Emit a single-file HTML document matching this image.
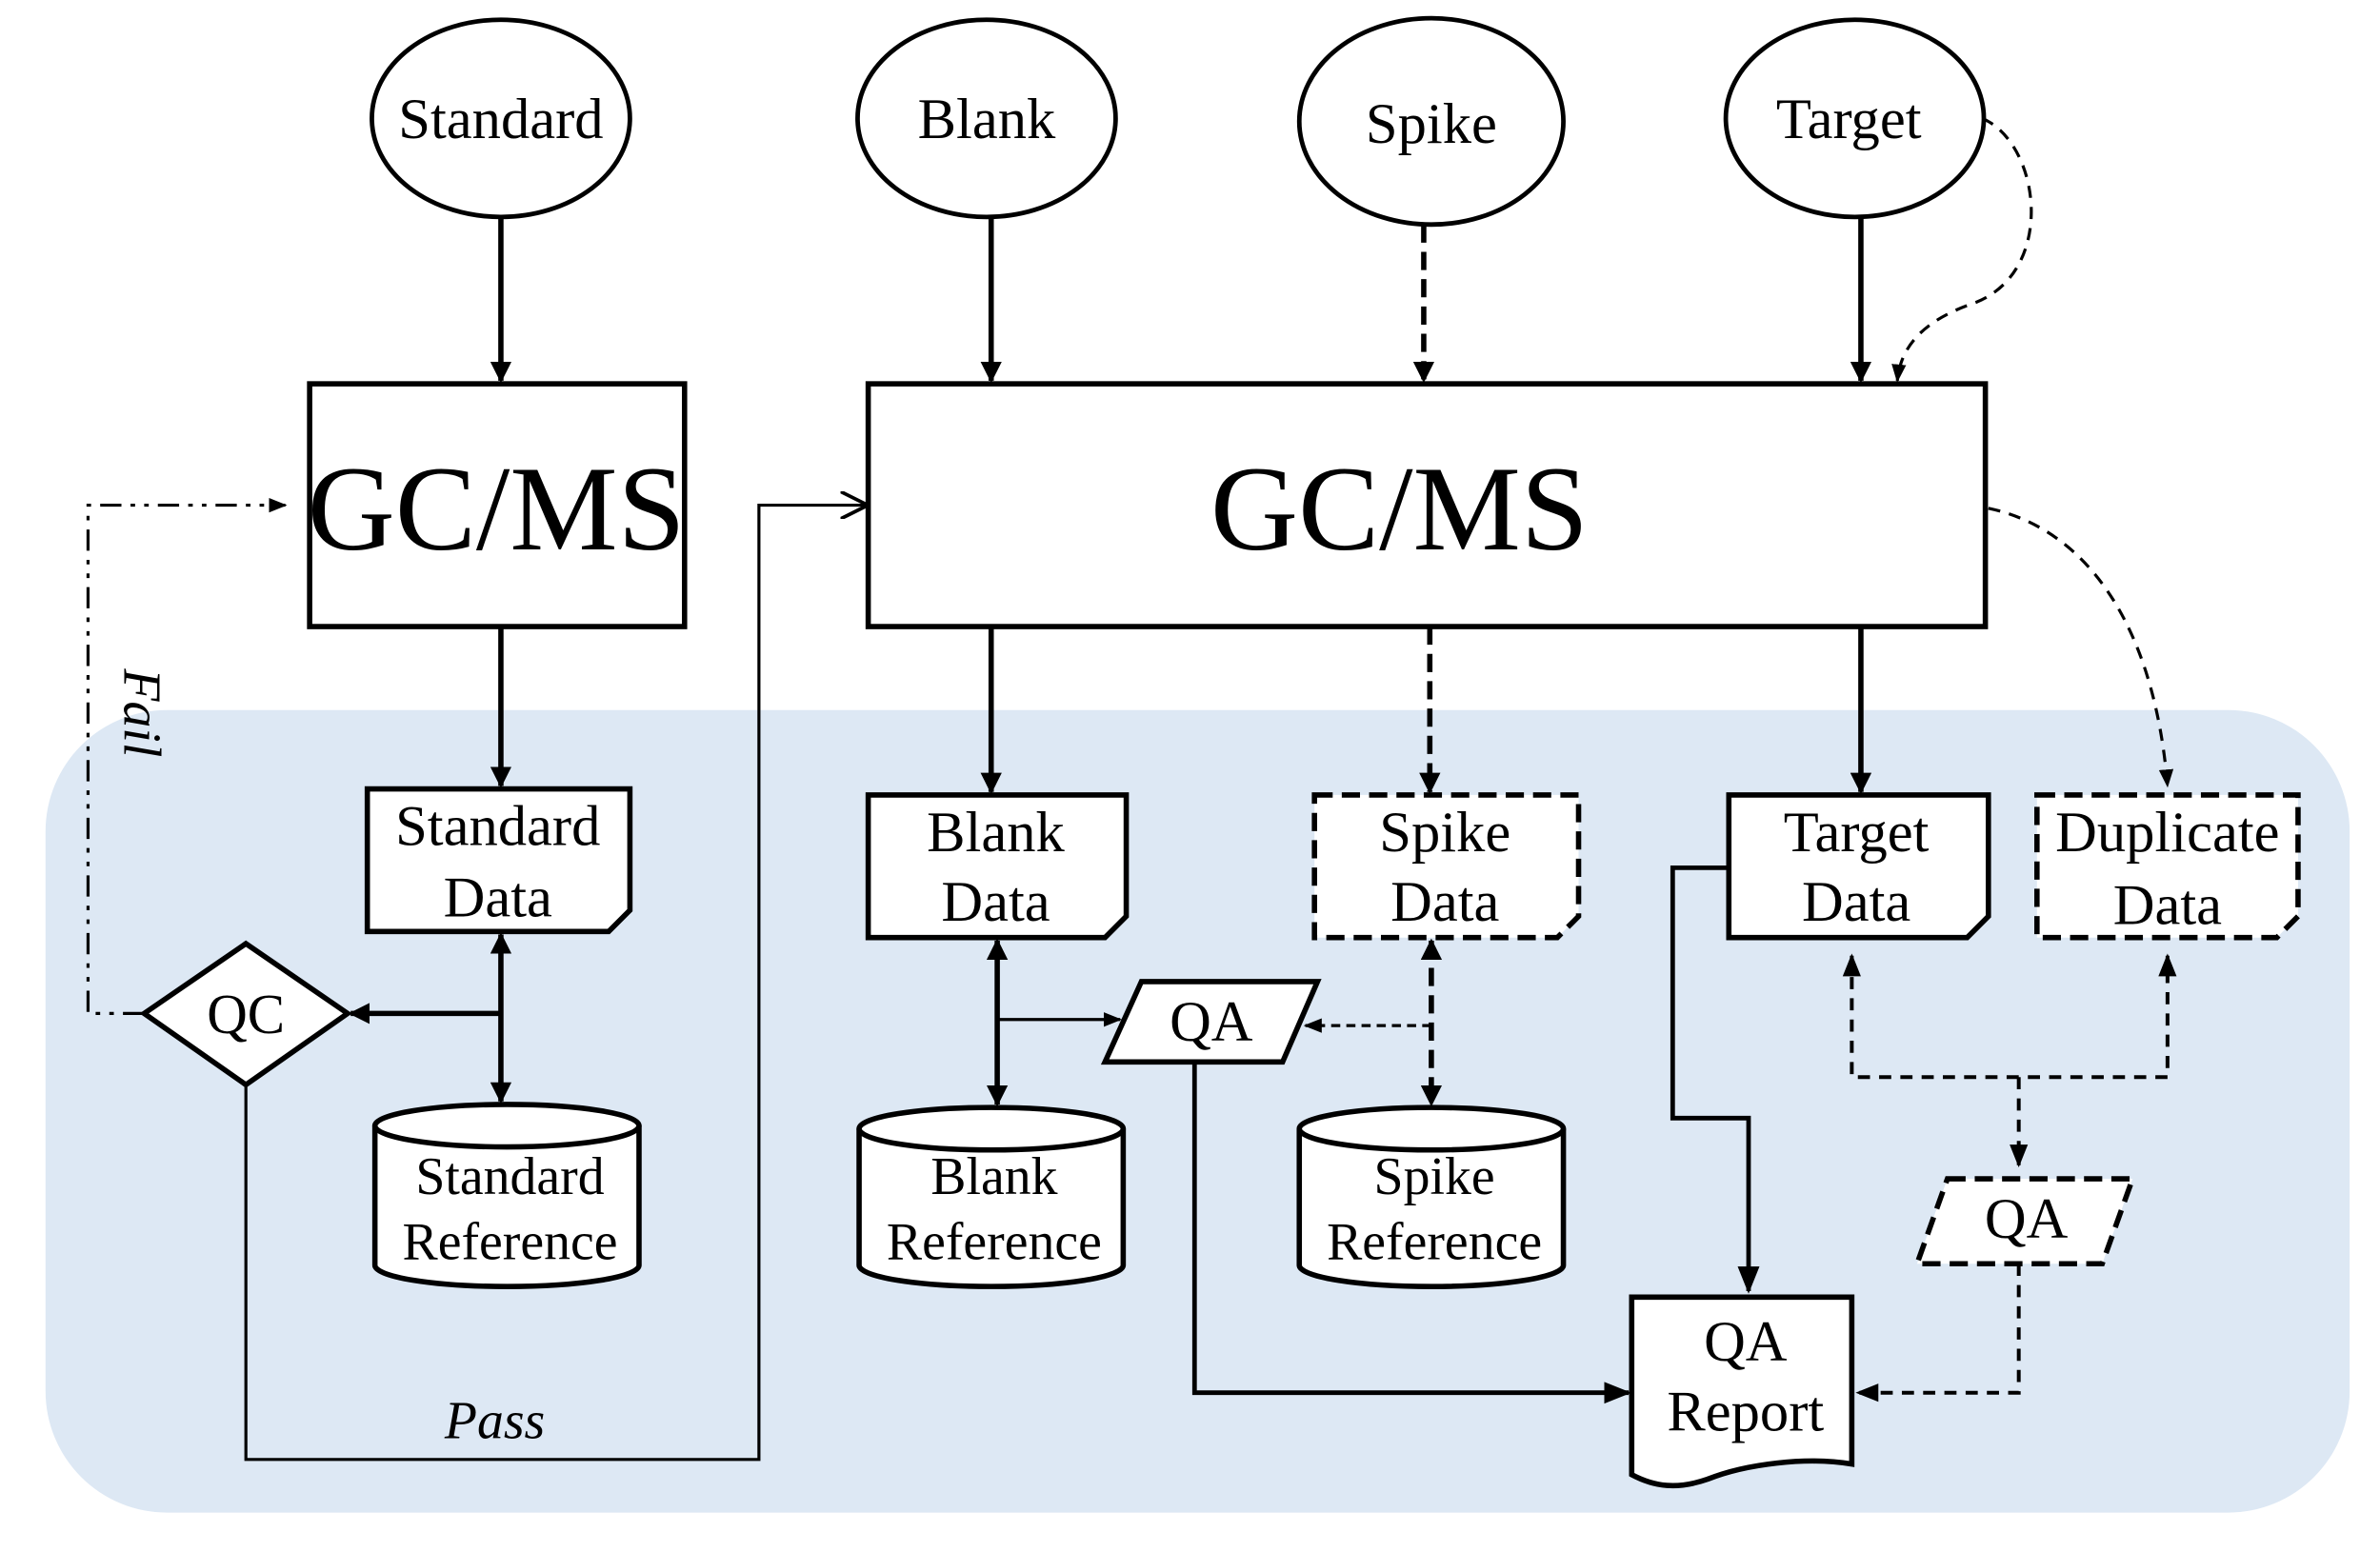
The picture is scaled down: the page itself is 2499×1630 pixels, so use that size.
<!DOCTYPE html>
<html><head><meta charset="utf-8"><style>
html,body{margin:0;padding:0;background:#fff;}
svg{display:block;}
text{font-family:"Liberation Serif",serif;fill:#000;}
</style></head><body>
<svg width="2499" height="1630" viewBox="0 0 1568 1023" preserveAspectRatio="none" xmlns="http://www.w3.org/2000/svg">
<defs>
<marker id="a" viewBox="0 0 10 10" refX="9" refY="5" markerWidth="4" markerHeight="4" orient="auto-start-reverse"><path d="M0,0L10,5L0,10z" fill="#000"/></marker>
<marker id="s" viewBox="0 0 10 10" refX="9" refY="5" markerWidth="6" markerHeight="6" orient="auto-start-reverse"><path d="M0,1L10,5L0,9z" fill="#000"/></marker>
<marker id="o" viewBox="0 0 10 10" refX="9" refY="5" markerWidth="9" markerHeight="9" orient="auto"><path d="M0,0L10,5L0,10" fill="none" stroke="#000" stroke-width="1.3"/></marker>
</defs>
<rect x="0" y="0" width="1568" height="1023" fill="#fff"/>
<rect x="30" y="468" width="1518" height="529" rx="80" fill="#dde8f4"/>

<g fill="#fff" stroke="#000" stroke-width="3">
<ellipse cx="330" cy="78" rx="85" ry="65"/>
<ellipse cx="650" cy="78" rx="85" ry="65"/>
<ellipse cx="943" cy="80" rx="87" ry="68"/>
<ellipse cx="1222" cy="78" rx="85" ry="65"/>
<rect x="204" y="253" width="247" height="160" stroke-width="3.5"/>
<rect x="572" y="253" width="736" height="160" stroke-width="3.5"/>
</g>
<g font-size="38" text-anchor="middle">
<text x="330" y="91">Standard</text>
<text x="650" y="91">Blank</text>
<text x="943" y="94">Spike</text>
<text x="1218" y="91">Target</text>
</g>
<text x="327" y="362" font-size="80" text-anchor="middle">GC/MS</text>
<text x="922" y="362" font-size="80" text-anchor="middle">GC/MS</text>

<g stroke="#000" stroke-width="3.5" fill="none">
<line x1="330" y1="143" x2="330" y2="251" marker-end="url(#a)"/>
<line x1="653" y1="143" x2="653" y2="251" marker-end="url(#a)"/>
<line x1="938" y1="148" x2="938" y2="251" marker-end="url(#a)" stroke-dasharray="12,6"/>
<line x1="1226" y1="143" x2="1226" y2="251" marker-end="url(#a)"/>
<line x1="330" y1="413" x2="330" y2="518" marker-end="url(#a)"/>
<line x1="653" y1="413" x2="653" y2="522" marker-end="url(#a)"/>
<line x1="942" y1="413" x2="942" y2="522" marker-end="url(#a)" stroke-dasharray="12,6"/>
<line x1="1226" y1="413" x2="1226" y2="522" marker-end="url(#a)"/>
</g>
<g stroke="#000" stroke-width="2" fill="none" stroke-dasharray="8,6">
<path d="M1306,78 C1345,95 1355,180 1300,200 C1265,212 1252,230 1250,251" marker-end="url(#s)"/>
<path d="M1310,335 C1380,350 1420,420 1428,518" marker-end="url(#s)"/>
</g>

<g fill="#fff" stroke="#000" stroke-width="3.5">
<path d="M242,520H415V600L401,614H242Z"/>
<path d="M572,524H742V604L728,618H572Z"/>
<path d="M866,524H1040V604L1026,618H866Z" stroke-dasharray="12,6"/>
<path d="M1139,524H1310V604L1296,618H1139Z"/>
<path d="M1342,524H1514V604L1500,618H1342Z" stroke-dasharray="12,6"/>
</g>
<g font-size="38" text-anchor="middle">
<text x="328" y="557">Standard</text><text x="328" y="604">Data</text>
<text x="656" y="561">Blank</text><text x="656" y="607">Data</text>
<text x="952" y="561">Spike</text><text x="952" y="607">Data</text>
<text x="1223" y="561">Target</text><text x="1223" y="607">Data</text>
<text x="1428" y="561">Duplicate</text><text x="1428" y="609">Data</text>
</g>

<g fill="#fff" stroke="#000" stroke-width="3.5">
<path d="M247,742V834A87,14 0 0 0 421,834V742"/><ellipse cx="334" cy="742" rx="87" ry="14"/>
<path d="M566,744V834A87,14 0 0 0 740,834V744"/><ellipse cx="653" cy="744" rx="87" ry="14"/>
<path d="M856,744V834A87,14 0 0 0 1030,834V744"/><ellipse cx="943" cy="744" rx="87" ry="14"/>
</g>
<g font-size="35" text-anchor="middle">
<text x="336" y="787">Standard</text><text x="336" y="830">Reference</text>
<text x="655" y="787">Blank</text><text x="655" y="830">Reference</text>
<text x="945" y="787">Spike</text><text x="945" y="830">Reference</text>
</g>

<path d="M162,622L229,668L162,715L95,668Z" fill="#fff" stroke="#000" stroke-width="3.5"/>
<text x="162" y="681" font-size="37" text-anchor="middle">QC</text>
<g stroke="#000" stroke-width="3.5" fill="none">
<line x1="330" y1="616" x2="330" y2="726" marker-start="url(#a)" marker-end="url(#a)"/>
<line x1="330" y1="668" x2="231" y2="668" marker-end="url(#a)"/>
<line x1="657" y1="620" x2="657" y2="728" marker-start="url(#a)" marker-end="url(#a)"/>
<line x1="943" y1="620" x2="943" y2="728" marker-start="url(#a)" marker-end="url(#a)" stroke-dasharray="12,6"/>
</g>
<g stroke="#000" stroke-width="2" fill="none">
<polyline points="95,668 58,668 58,333 188,333" stroke-dasharray="14,6,3,6,3,6" marker-end="url(#s)"/>
<polyline points="162,715 162,962 500,962 500,333 570,333" marker-end="url(#o)"/>
<line x1="657" y1="672" x2="738" y2="672" marker-end="url(#s)"/>
<line x1="943" y1="676" x2="860" y2="676" marker-end="url(#s)" stroke-dasharray="6,4"/>
</g>
<text transform="translate(82,470) rotate(90)" font-size="35" font-style="italic" text-anchor="middle">Fail</text>
<text x="326" y="948" font-size="35" font-style="italic" text-anchor="middle">Pass</text>

<path d="M752,647H868L845,700H728Z" fill="#fff" stroke="#000" stroke-width="3.5"/>
<text x="798" y="686" font-size="38" text-anchor="middle">QA</text>
<g stroke="#000" stroke-width="3" fill="none">
<polyline points="787,700 787,918 1073,918" marker-end="url(#s)"/>
<polyline points="1139,572 1102,572 1102,737 1152,737 1152,851" marker-end="url(#s)"/>
</g>
<g stroke="#000" stroke-width="2.5" fill="none" stroke-dasharray="8,6">
<polyline points="1220,630 1220,710 1428,710 1428,630" marker-start="url(#s)" marker-end="url(#s)"/>
<line x1="1330" y1="710" x2="1330" y2="768" marker-end="url(#s)"/>
<polyline points="1330,833 1330,918 1224,918" marker-end="url(#s)"/>
</g>

<path d="M1283,777H1405L1385,833H1263Z" fill="#fff" stroke="#000" stroke-width="3.5" stroke-dasharray="12,6"/>
<text x="1335" y="816" font-size="38" text-anchor="middle">QA</text>

<path d="M1075,855H1220V965C1190,960 1150,965 1125,975C1105,982 1090,980 1075,972Z" fill="#fff" stroke="#000" stroke-width="3.5"/>
<text x="1150" y="897" font-size="38" text-anchor="middle">QA</text>
<text x="1150" y="943" font-size="38" text-anchor="middle">Report</text>
</svg>
</body></html>
